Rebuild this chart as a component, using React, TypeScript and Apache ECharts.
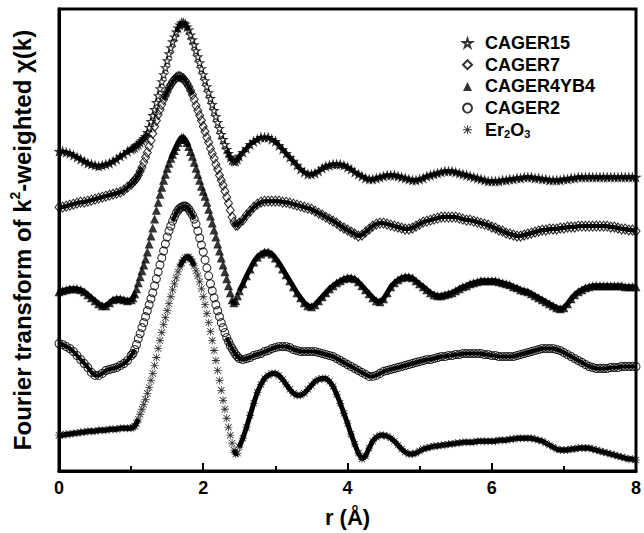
import React, { useEffect, useRef } from "react";
import * as echarts from "echarts";

// Sampling grid of r (Å): 0.05 Å steps, 0.025 Å steps through the main peak region
function buildRGrid(): number[] {
  const r: number[] = [];
  for (let i = 0; i < 20; i++) r.push(+(i * 0.05).toFixed(3));
  for (let i = 0; i < 60; i++) r.push(+(1 + i * 0.025).toFixed(3));
  for (let i = 0; i <= 110; i++) r.push(+(2.5 + i * 0.05).toFixed(3));
  return r;
}
const R = buildRGrid();

const X_TICKS = [0, 2, 4, 6, 8];

// Offset FT magnitudes (arbitrary units)
const CAGER15 = [
  321,321,320,319,317,315,313,311,309,308,
  307,306,307,308,309,311,313,316,318,321,
  323,324,325,327,328,330,332,334,336,340,
  345,351,357,363,370,377,384,391,398,405,
  412,419,425,431,436,441,445,448,450,450,
  449,446,443,438,433,428,422,416,410,404,
  398,392,386,380,374,368,362,356,350,344,
  338,333,328,323,319,315,312,311,311,313,
  316,320,324,328,331,333,335,335,335,333,
  331,327,323,319,315,311,307,303,300,298,
  298,299,301,304,306,307,308,308,308,307,
  305,303,300,298,296,294,293,293,294,295,
  296,297,297,297,296,295,294,293,292,292,
  293,294,296,297,298,299,300,301,301,301,
  300,299,298,297,296,295,294,293,292,291,
  291,291,291,292,292,293,293,294,294,295,
  295,295,294,294,293,293,292,292,292,292,
  293,293,294,294,295,295,295,295,295,295,
  295,295,295,295,295,295,295,295,295,295,
  295,
];

const CAGER7 = [
  265,265,266,267,268,269,270,270,271,272,
  273,274,275,276,277,278,279,280,282,285,
  288,290,292,294,297,301,305,310,315,320,
  326,332,339,346,352,358,363,368,373,377,
  381,385,388,391,393,395,396,396,395,394,
  392,389,386,382,378,373,367,362,357,352,
  346,341,335,330,324,319,314,308,303,297,
  292,287,281,275,269,262,255,250,247,247,
  249,252,257,261,265,268,270,271,271,271,
  271,271,270,270,269,268,267,266,265,264,
  263,261,259,257,255,253,251,249,246,244,
  242,240,238,236,237,240,243,246,248,249,
  249,248,247,246,245,244,243,243,244,246,
  248,250,251,252,253,254,255,255,255,255,
  255,254,253,252,252,251,250,249,248,247,
  245,244,242,241,239,238,237,236,236,237,
  238,239,240,241,242,242,243,243,243,244,
  244,245,245,245,246,246,246,246,246,246,
  246,246,246,245,245,244,243,243,242,242,
  241,
];

const CAGER4YB4 = [
  180,181,182,183,183,183,182,180,177,174,
  171,168,166,166,169,172,173,173,172,171,
  172,174,178,183,189,195,201,207,213,220,
  228,236,244,253,262,270,278,285,292,298,
  304,309,314,318,322,326,330,333,335,335,
  333,330,326,321,316,310,304,298,292,286,
  281,276,270,263,256,249,242,235,228,221,
  214,207,200,193,186,179,172,169,171,176,
  181,188,196,203,210,215,218,220,220,218,
  214,209,203,197,191,185,179,174,169,166,
  165,167,171,175,179,183,186,189,191,193,
  194,194,193,190,186,182,178,174,171,170,
  173,179,185,189,192,194,195,195,194,191,
  188,185,182,179,177,176,176,177,178,179,
  181,183,185,186,188,189,190,191,191,191,
  191,191,190,189,188,187,185,184,182,181,
  180,178,176,174,172,170,168,166,164,163,
  164,168,173,177,180,182,184,185,186,186,
  186,186,186,186,186,186,186,185,185,185,
  185,
];

const CAGER2 = [
  128,127,125,123,120,116,112,108,104,99,
  96,96,98,101,102,103,104,106,108,111,
  116,118,122,127,133,138,144,149,155,161,
  167,173,179,186,193,200,207,214,221,228,
  235,241,246,251,255,259,262,264,265,266,
  266,265,263,260,257,253,248,241,234,227,
  220,212,204,196,188,181,174,167,161,155,
  149,144,139,134,130,126,123,120,117,115,
  113,112,113,114,116,117,118,120,121,123,
  124,125,125,125,124,122,121,120,120,120,
  120,120,119,118,117,116,115,113,111,109,
  107,105,103,101,99,97,95,95,96,98,
  100,101,102,103,104,105,106,107,108,109,
  110,111,112,112,113,114,115,115,116,116,
  117,117,118,118,118,118,118,118,117,117,
  116,116,115,115,115,115,115,116,117,118,
  119,120,121,122,123,123,123,123,122,121,
  119,117,115,113,111,109,107,105,104,103,
  103,103,103,104,104,104,105,105,105,105,
  105,
];

const ER2O3 = [
  36,36,37,37,38,38,39,39,40,40,
  40,41,41,41,42,42,42,43,43,43,
  43,44,45,48,52,57,62,67,72,78,
  84,91,98,106,114,123,131,139,147,154,
  161,168,175,182,188,194,200,205,209,212,
  214,215,215,213,210,206,201,196,190,183,
  175,167,158,149,140,131,121,111,101,91,
  81,71,62,53,44,36,28,21,17,18,
  24,33,44,56,68,79,87,93,96,98,
  98,96,92,87,82,78,76,76,78,82,
  86,90,92,93,93,90,85,77,68,58,
  48,37,27,18,12,15,23,30,34,36,
  36,35,33,30,26,22,19,17,17,18,
  20,22,23,24,25,25,26,26,27,27,
  28,28,29,29,29,29,30,30,30,30,
  30,30,31,31,31,32,32,33,33,33,
  33,33,32,31,30,28,26,24,22,21,
  21,21,22,22,23,23,23,23,22,21,
  20,19,18,17,16,15,14,13,12,12,
  11,
];

const SERIES_NAMES = ["CAGER15", "CAGER7", "CAGER4YB4", "CAGER2", "Er2O3"];
const SERIES_VALUES = [CAGER15, CAGER7, CAGER4YB4, CAGER2, ER2O3];

const STAR =
  "path://M50,2 L61.2,36.6 L97.6,36.6 L68.2,58 L79.4,92.6 L50,71.2 L20.6,92.6 L31.8,58 L2.4,36.6 L38.8,36.6 Z";
const ASTERISK =
  "path://M9,0 L11,0 L11,20 L9,20 Z M0,9 L20,9 L20,11 L0,11 Z M2.7,1.3 L18.7,17.3 L17.3,18.7 L1.3,2.7 Z M17.3,1.3 L18.7,2.7 L2.7,18.7 L1.3,17.3 Z";

const FONT = "'Liberation Sans', Arial, Helvetica, sans-serif";

// plot pixels per Å on x (585 px for 8 Å); y units are 1 px each
const PX_PER_R = 585 / 8;

// the dense trace band is broken where successive markers separate
function traceData(vals: number[]) {
  const out: any[] = [];
  for (let i = 0; i < R.length; i++) {
    out.push([R[i], vals[i]]);
    if (i < R.length - 1) {
      const dr = R[i + 1] - R[i];
      const slope = Math.abs(vals[i + 1] - vals[i]) / (dr * PX_PER_R);
      const limit = dr < 0.04 ? 2.4 : 3.6;
      if (slope > limit) out.push([(R[i] + R[i + 1]) / 2, null]);
    }
  }
  return out;
}

export default function App() {
  const ref = useRef<HTMLDivElement>(null);

  useEffect(() => {
    if (!ref.current) return;
    const chart = echarts.init(ref.current, undefined, { renderer: "svg" });

    const hollow = { color: "rgba(0,0,0,0)", borderColor: "#000", borderWidth: 1.1 };
    const symbols: any[] = [STAR, "diamond", "triangle", "circle", ASTERISK];
    const sizes: any[] = [8, [8, 10], 9, 8, 8];
    const styles: any[] = [hollow, hollow, { color: "#000" }, hollow, { color: "#000" }];
    const traceWidth = [4, 4, 5, 4, 5];

    const traces = SERIES_NAMES.map((name, k) => ({
      name: name + " trace",
      type: "line",
      showSymbol: false,
      symbol: "none",
      silent: true,
      connectNulls: false,
      z: 1,
      lineStyle: { color: "#000", width: traceWidth[k] },
      data: traceData(SERIES_VALUES[k]),
    }));

    const series = SERIES_NAMES.map((name, k) => ({
      name,
      type: "scatter",
      symbol: symbols[k],
      symbolSize: sizes[k],
      itemStyle: styles[k],
      silent: true,
      z: 2,
      data: R.map((r, i) => [r, SERIES_VALUES[k][i]]),
    }));

    chart.setOption({
      animation: false,
      backgroundColor: "#fff",
      grid: {
        left: 57,
        right: 2,
        top: 9,
        bottom: 60,
        show: true,
        borderColor: "#000",
        borderWidth: 3,
      },
      legend: {
        orient: "vertical",
        left: 457,
        top: 28,
        itemWidth: 9,
        itemHeight: 9,
        itemGap: 1.7,
        selectedMode: false,
        data: SERIES_NAMES.map((n, k) => ({ name: n, icon: symbols[k] })),
        formatter: (n: string) => (n === "Er2O3" ? "Er{sub|2}O{sub|3}" : n),
        textStyle: {
          fontFamily: FONT,
          fontSize: 18,
          fontWeight: "bold",
          color: "#000",
          lineHeight: 20,
          padding: [0, 0, 0, 8],
          rich: {
            sub: {
              fontFamily: FONT,
              fontSize: 11,
              fontWeight: "bold",
              color: "#000",
              verticalAlign: "bottom",
              lineHeight: 11,
            },
          },
        },
      },
      xAxis: {
        type: "value",
        min: X_TICKS[0],
        max: X_TICKS[X_TICKS.length - 1],
        interval: 2,
        axisLine: { show: true, lineStyle: { color: "#000", width: 3 } },
        axisTick: { inside: true, length: 8, lineStyle: { color: "#000", width: 2 } },
        minorTick: { show: true, splitNumber: 2, length: 5, lineStyle: { color: "#000", width: 2 } },
        splitLine: { show: false },
        minorSplitLine: { show: false },
        axisLabel: {
          fontFamily: FONT,
          fontSize: 18,
          fontWeight: "bold",
          color: "#000",
          margin: 8,
        },
        name: "r (Å)",
        nameLocation: "middle",
        nameGap: 35,
        nameTextStyle: { fontFamily: FONT, fontSize: 22, fontWeight: "bold", color: "#000" },
      },
      yAxis: {
        type: "value",
        min: 0,
        max: 464,
        axisLine: { show: true, lineStyle: { color: "#000", width: 3 } },
        axisTick: { show: false },
        axisLabel: { show: false },
        splitLine: { show: false },
        name: "Fourier transform of k{sup|2}-weighted χ(k)",
        nameLocation: "middle",
        nameRotate: 90,
        nameGap: 23,
        nameTextStyle: {
          fontFamily: FONT,
          fontSize: 24,
          fontWeight: "bold",
          color: "#000",
          lineHeight: 28,
          rich: {
            sup: {
              fontFamily: FONT,
              fontSize: 14,
              fontWeight: "bold",
              color: "#000",
              verticalAlign: "top",
              lineHeight: 14,
            },
          },
        },
      },
      series: [...traces, ...series],
    });

    return () => chart.dispose();
  }, []);

  return (
    <div
      ref={ref}
      style={{ position: "fixed", left: 0, top: 0, width: 644, height: 533, background: "#fff" }}
    />
  );
}
